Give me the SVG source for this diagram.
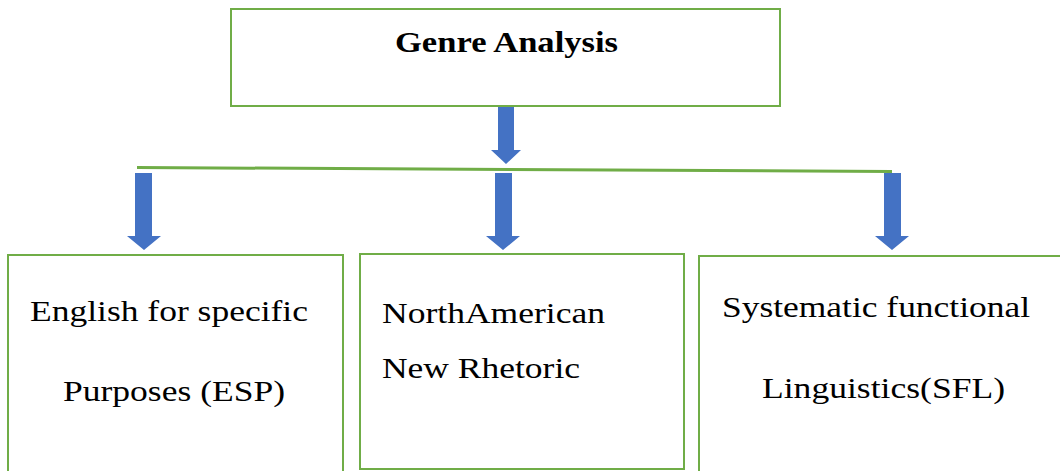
<svg xmlns="http://www.w3.org/2000/svg" width="1060" height="471" viewBox="0 0 1060 471">
<style>
.box{fill:#ffffff;stroke:#70ad47;stroke-width:2}
.t{font-family:"Liberation Serif","Times New Roman",serif;font-size:29px;fill:#000}
.b{font-weight:bold}
.arrow{fill:#4472c4}
</style>
<rect width="1060" height="471" fill="#ffffff"/>
<g id="node-genre">
<rect class="box" x="231" y="9" width="549" height="97"/>
<text class="t b" x="395" y="52" textLength="223" lengthAdjust="spacingAndGlyphs">Genre Analysis</text>
</g>
<g id="node-esp">
<rect class="box" x="8" y="255" width="335" height="230"/>
<text class="t" x="30" y="321" textLength="278" lengthAdjust="spacingAndGlyphs">English for specific</text>
<text class="t" x="63" y="401" textLength="222" lengthAdjust="spacingAndGlyphs">Purposes (ESP)</text>
</g>
<g id="node-nar">
<rect class="box" x="360" y="254" width="324" height="215"/>
<text class="t" x="382" y="323" textLength="223" lengthAdjust="spacingAndGlyphs">NorthAmerican</text>
<text class="t" x="382" y="378" textLength="198" lengthAdjust="spacingAndGlyphs">New Rhetoric</text>
</g>
<g id="node-sfl">
<rect class="box" x="699" y="256" width="380" height="230"/>
<text class="t" x="722" y="317" textLength="308" lengthAdjust="spacingAndGlyphs">Systematic functional</text>
<text class="t" x="762" y="398" textLength="243" lengthAdjust="spacingAndGlyphs">Linguistics(SFL)</text>
</g>
<g id="connectors">
<line x1="137" y1="167.5" x2="892" y2="171.5" stroke="#70ad47" stroke-width="3"/>
<polygon class="arrow" points="498,107 514,107 514,150 521,150 506,164 491,150 498,150"/>
<polygon class="arrow" points="135,173 152,173 152,236 161,236 144,250 127,236 135,236"/>
<polygon class="arrow" points="495,173 512,173 512,236 520,236 503,250 486,236 495,236"/>
<polygon class="arrow" points="884,173 901,173 901,236 909,236 892,250 875,236 884,236"/>
</g>
</svg>
